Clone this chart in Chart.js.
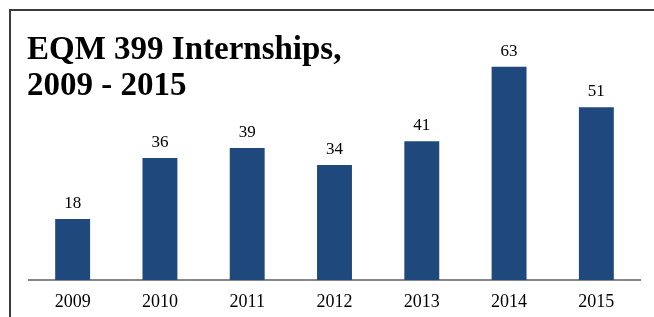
<!DOCTYPE html>
<html>
<head>
<meta charset="utf-8">
<script src="https://cdn.jsdelivr.net/npm/chart.js@4/dist/chart.umd.min.js"></script>
<style>
  html, body { margin: 0; padding: 0; background: #fff; }
  #wrap { position: relative; width: 654px; height: 317px; overflow: hidden; }
  #frame { position: absolute; left: 9px; top: 9px; width: 700px; height: 400px; border: 2px solid #3c3c3c; box-sizing: border-box; }
  #title { position: absolute; left: 27px; top: 30px; font-family: "Liberation Serif", "Times New Roman", serif; font-weight: bold; font-size: 33px; line-height: 36px; color: #000; white-space: nowrap; }
  canvas { position: absolute; left: 0; top: 0; }
</style>
</head>
<body>
<div id="wrap">
  <div id="frame"></div>
  <canvas id="c" width="654" height="317"></canvas>
  <div id="title">EQM 399 Internships,<br>2009 - 2015</div>
</div>
<script>
const titleLines = ["EQM 399 Internships,", "2009 - 2015"];
const categories = ["2009", "2010", "2011", "2012", "2013", "2014", "2015"];
const internships = [18, 36, 39, 34, 41, 63, 51];

const valueLabels = {
  id: 'valueLabels',
  afterDatasetsDraw(chart) {
    const ctx = chart.ctx;
    const meta = chart.getDatasetMeta(0);
    ctx.save();
    ctx.font = '17px "Liberation Serif", "Times New Roman", serif';
    ctx.fillStyle = '#000';
    ctx.textAlign = 'center';
    ctx.textBaseline = 'alphabetic';
    meta.data.forEach((bar, i) => {
      ctx.fillText(String(internships[i]), bar.x, bar.y - 11);
    });
    ctx.restore();
  }
};

new Chart(document.getElementById('c'), {
  type: 'bar',
  data: {
    labels: categories,
    datasets: [{
      data: internships,
      backgroundColor: '#1F497D',
      borderWidth: 0,
      categoryPercentage: 1.0,
      barPercentage: 0.4
    }]
  },
  options: {
    responsive: false,
    animation: false,
    layout: { padding: { left: 29, right: 14, top: 43, bottom: 0 } },
    plugins: { legend: { display: false }, title: { display: false }, tooltip: { enabled: false } },
    scales: {
      y: { display: false, min: 0, max: 70 },
      x: {
        grid: { display: false, drawTicks: false },
        border: { display: true, color: '#878787', width: 2 },
        ticks: { color: '#000', padding: 11, font: { family: '"Liberation Serif", "Times New Roman", serif', size: 18 } },
        afterFit(scale) { scale.height = 37; }
      }
    }
  },
  plugins: [valueLabels]
});
</script>
</body>
</html>
